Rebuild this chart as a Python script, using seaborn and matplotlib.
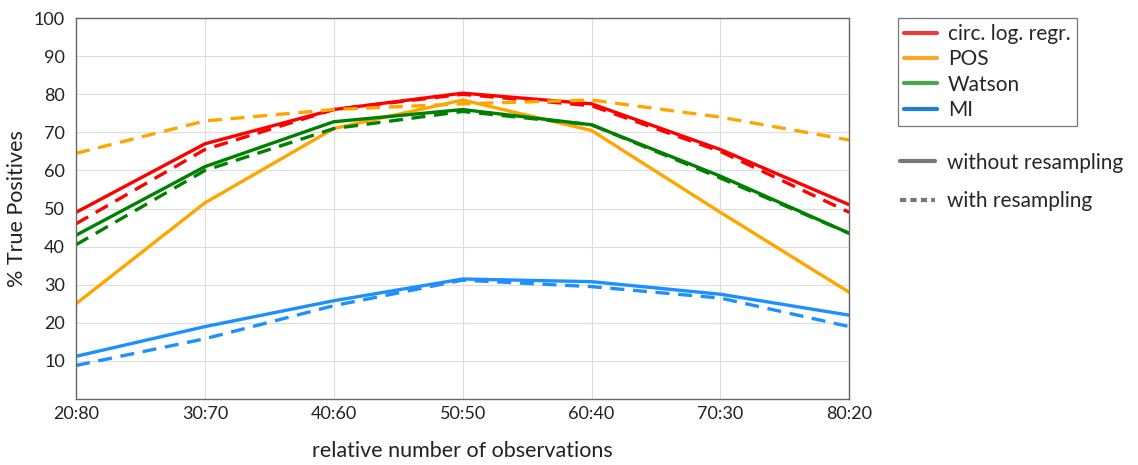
import matplotlib
matplotlib.use("Agg")
import matplotlib.pyplot as plt
from matplotlib.lines import Line2D
import seaborn as sns
import pandas as pd

ratios = ["20:80", "30:70", "40:60", "50:50", "60:40", "70:30", "80:20"]
methods = ["circ. log. regr.", "POS", "Watson", "MI"]

circ_plain = [49.0, 67.0, 76.0, 80.3, 77.5, 65.5, 51.0]
circ_resampled = [46.0, 65.5, 76.0, 80.0, 77.0, 65.0, 49.0]
pos_plain = [25.0, 51.5, 71.0, 78.5, 70.5, 49.0, 28.0]
pos_resampled = [64.5, 73.0, 76.0, 77.5, 78.5, 74.0, 68.0]
watson_plain = [43.0, 61.0, 72.8, 76.0, 72.0, 58.5, 43.5]
watson_resampled = [40.5, 60.0, 71.0, 75.5, 72.0, 58.0, 43.5]
mi_plain = [11.2, 19.0, 25.8, 31.5, 30.8, 27.5, 22.0]
mi_resampled = [8.8, 15.8, 24.5, 31.2, 29.5, 26.5, 19.0]

series = {
    ("circ. log. regr.", "without"): circ_plain,
    ("circ. log. regr.", "with"): circ_resampled,
    ("POS", "without"): pos_plain,
    ("POS", "with"): pos_resampled,
    ("Watson", "without"): watson_plain,
    ("Watson", "with"): watson_resampled,
    ("MI", "without"): mi_plain,
    ("MI", "with"): mi_resampled,
}

rows = []
for (method, mode), vals in series.items():
    for i, v in enumerate(vals):
        rows.append({"pos": i, "value": v, "method": method, "resampling": mode})
df = pd.DataFrame(rows)

line_colors = {"circ. log. regr.": "#ff0000", "POS": "#ffa500",
               "Watson": "#008000", "MI": "#1e8fff"}
legend_colors = {"circ. log. regr.": "#ee3c3c", "POS": "#f7a82e",
                 "Watson": "#4aa64a", "MI": "#1a7fd6"}

sns.set_theme(style="whitegrid")
plt.rcParams["font.family"] = ["Lato", "DejaVu Sans"]

fig = plt.figure(figsize=(11.38, 4.65), dpi=100)
ax = fig.add_axes([0.0668, 0.142, 0.6795, 0.819])

sns.lineplot(data=df, x="pos", y="value", hue="method", style="resampling",
             hue_order=methods, style_order=["without", "with"],
             palette=line_colors,
             dashes={"without": "", "with": (4.2, 2.6)},
             linewidth=2.4, legend=False, ax=ax)

ax.set_xlim(0, len(ratios) - 1)
ax.set_ylim(0, 100)
ax.set_xticks(range(len(ratios)))
ax.set_xticklabels(ratios)
ax.set_yticks(range(10, 101, 10))
ax.tick_params(axis="both", direction="in", length=5, width=0.8, color="#444444",
               labelsize=13, labelcolor="#222222", pad=8)
ax.tick_params(axis="x", pad=5)
ax.grid(True, color="#dddddd", linewidth=0.8)
for sp in ax.spines.values():
    sp.set_color("#666666")
    sp.set_linewidth(1.0)
ax.set_xlabel("relative number of observations", fontsize=15.5, color="#222222", labelpad=14)
ax.set_ylabel("% True Positives", fontsize=15.5, color="#222222", labelpad=5)

method_handles = [Line2D([], [], color=legend_colors[m], linewidth=3) for m in methods]
leg1 = fig.legend(method_handles, methods, loc="upper left",
                  bbox_to_anchor=(0.789, 0.962), frameon=True, fancybox=False,
                  fontsize=15, handlelength=1.6, handletextpad=0.5,
                  labelspacing=0.26, borderpad=0.3, borderaxespad=0)
leg1.get_frame().set_edgecolor("#555555")
leg1.get_frame().set_linewidth(0.9)

style_handles = [Line2D([], [], color="#777777", linewidth=3),
                 Line2D([], [], color="#777777", linewidth=3, dashes=(1.5, 1.0))]
fig.legend(style_handles, ["without resampling", "with resampling"], loc="upper left",
           bbox_to_anchor=(0.785, 0.685), frameon=False, fontsize=15,
           handlelength=1.7, handletextpad=0.6, labelspacing=0.9,
           borderpad=0.3, borderaxespad=0)

fig.savefig("out.png", dpi=100)
